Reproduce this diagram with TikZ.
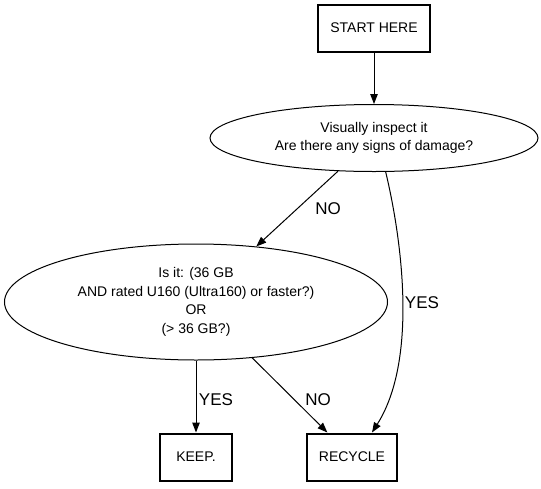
\documentclass[tikz,border=0pt]{standalone}
\usepackage{fontspec}
\setmainfont{Liberation Sans}
\usetikzlibrary{shapes.geometric,arrows.meta,calc}
\begin{document}
\begin{tikzpicture}[x=1pt,y=-1pt,
  boxnode/.style={draw,line width=2pt,rectangle,inner sep=0pt,font=\fontsize{14}{18}\selectfont},
  ellnode/.style={draw,line width=1pt,ellipse,inner sep=0pt,align=center,font=\fontsize{14}{18.5}\selectfont},
  edge/.style={line width=1pt,-{Triangle[length=10pt,width=7.5pt]}},
  lbl/.style={font=\fontsize{17}{20}\selectfont,inner sep=0pt}]
\useasboundingbox (0,0) rectangle (541,488);
\node[boxnode,minimum width=112pt,minimum height=47pt] (start) at (374,28) {START HERE};
\node[ellnode,minimum width=328pt,minimum height=67pt] (e1) at (374,138) {Visually inspect it\\Are there any signs of damage?};
\node[ellnode,minimum width=383pt,minimum height=116pt] (e2) at (196,302) {Is it: (36 GB\\AND rated U160 (Ultra160) or faster?)\\OR\\(> 36 GB?)};
\node[boxnode,minimum width=72pt,minimum height=47pt] (keep) at (196,457) {KEEP.};
\node[boxnode,minimum width=90pt,minimum height=47pt] (rec) at (352,457) {RECYCLE};
\draw[edge] (start) -- (e1);
\draw[edge] (e1) -- (e2);
\draw[edge] (e1.-71) .. controls (402,240) and (418,360) .. ($(rec.north)+(20,0)$);
\draw[edge] (e2) -- (keep);
\draw[edge] (e2) -- (rec);
\node[lbl] (l1) at (328,209) {NO};
\node[lbl] (l2) at (422,303) {YES};
\node[lbl] (l3) at (216,400) {YES};
\node[lbl] (l4) at (318,400) {NO};
\end{tikzpicture}
\end{document}
